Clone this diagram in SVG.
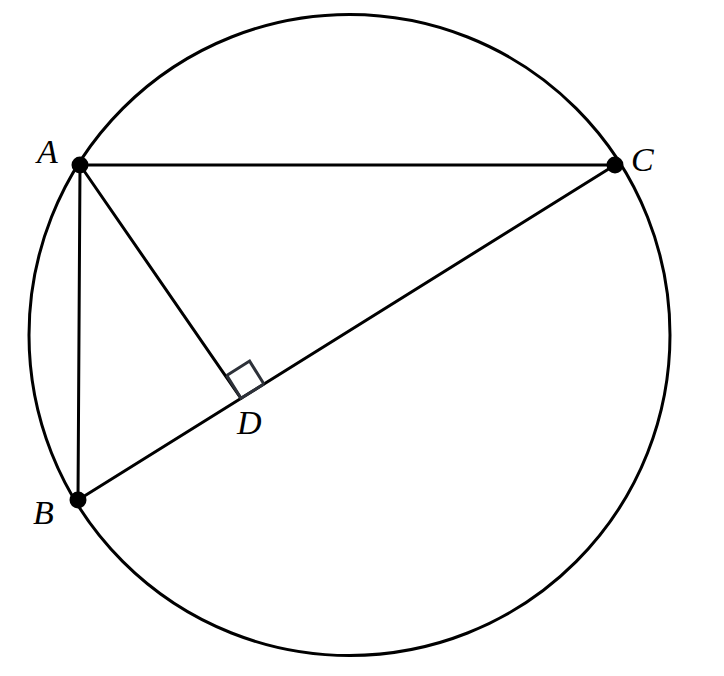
<svg xmlns="http://www.w3.org/2000/svg" width="724" height="676" viewBox="0 0 724 676">
<style>
.ln{stroke:#000;stroke-width:3;fill:none;stroke-linecap:round}
.pt{fill:#000}
.lbl{font-family:"Liberation Serif","DejaVu Serif",serif;font-style:italic;font-size:34px;fill:#000}
.mk{stroke:#2d3139;stroke-width:3;fill:none}
</style>
<rect width="724" height="676" fill="#fff"/>
<g id="circle"><circle class="ln" cx="349.5" cy="335" r="320.5"/></g>
<g id="connectors">
<line class="ln" x1="80" y1="165" x2="615" y2="165"/>
<line class="ln" x1="80" y1="165" x2="78" y2="500"/>
<line class="ln" x1="78" y1="500" x2="615" y2="165"/>
<line class="ln" x1="80" y1="165" x2="241" y2="398.3"/>
<polyline class="mk" points="226.7,375.4 249.6,361.1 263.9,384"/>
<polyline class="mk" points="226.7,375.4 241,398.3 263.9,384"/>
</g>
<g id="A"><circle class="pt" cx="80" cy="165" r="8.5"/><text class="lbl" x="37" y="163">A</text></g>
<g id="C"><circle class="pt" cx="615" cy="165" r="8.5"/><text class="lbl" x="631" y="171">C</text></g>
<g id="B"><circle class="pt" cx="78" cy="500" r="8.5"/><text class="lbl" x="33" y="524">B</text></g>
<g id="D"><text class="lbl" x="237" y="434">D</text></g>
</svg>
